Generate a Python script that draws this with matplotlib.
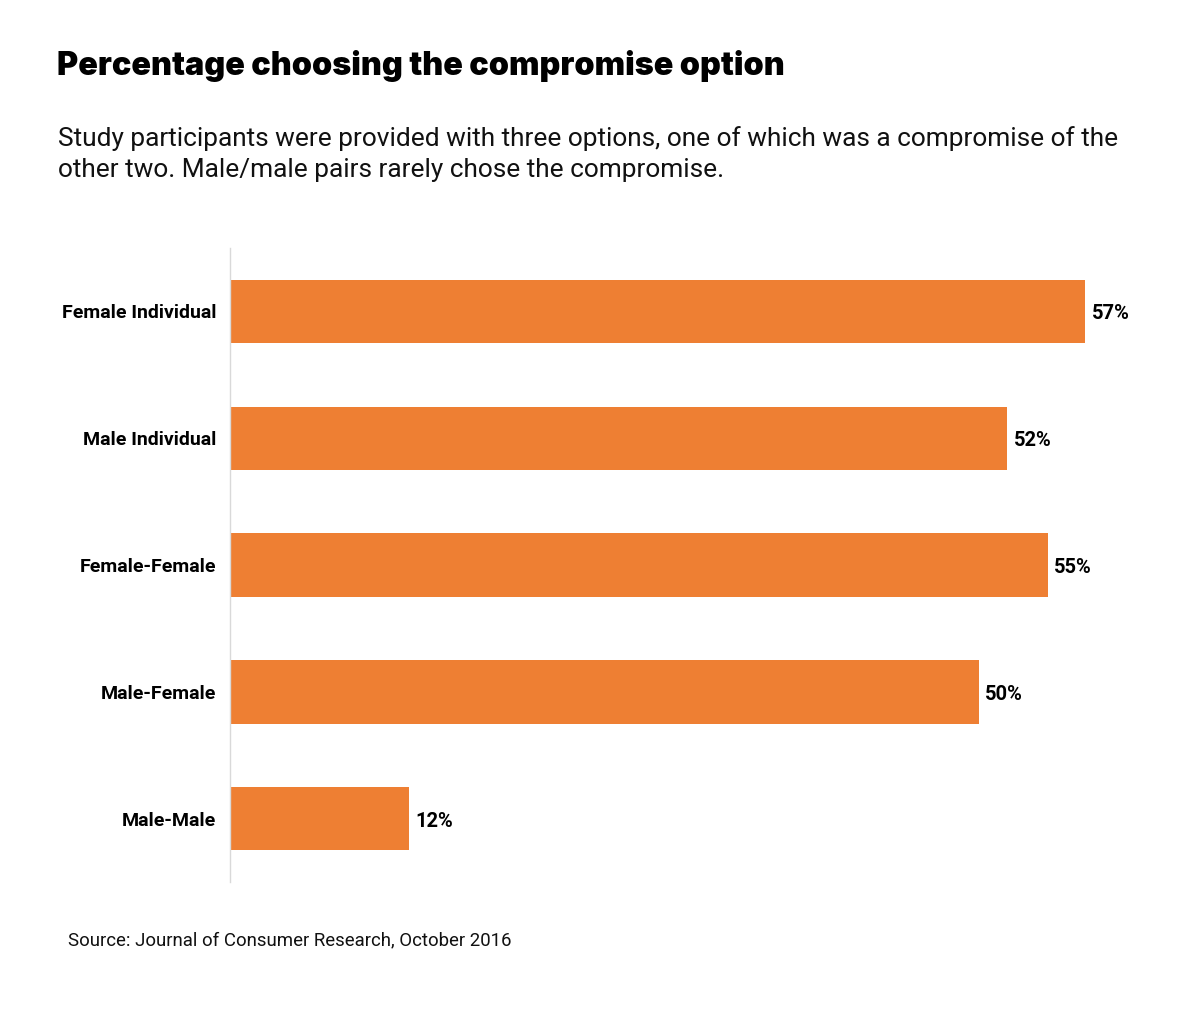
import matplotlib
matplotlib.use("Agg")
import matplotlib.pyplot as plt

CATEGORIES = ["Female Individual", "Male Individual", "Female-Female",
              "Male-Female", "Male-Male"]
# bar lengths as drawn (labels show the rounded figures)
VALUES = [57.0, 51.8, 54.5, 49.9, 11.9]
LABELS = ["57%", "52%", "55%", "50%", "12%"]
TITLE = "Percentage choosing the compromise option"
SUBTITLE = ("Study participants were provided with three options, one of which was a compromise of the\n"
            "other two. Male/male pairs rarely chose the compromise.")
SOURCE = "Source: Journal of Consumer Research, October 2016"

ORANGE = "#EE7F33"
plt.rcParams["font.family"] = ["Roboto", "DejaVu Sans"]

W, H = 1200, 1011
fig = plt.figure(figsize=(W / 100, H / 100), dpi=100)
ax = fig.add_axes([230 / W, 1 - 882 / H, 900 / W, (882 - 248) / H])

y = list(range(len(CATEGORIES)))
ax.barh(y, VALUES, height=0.5, color=ORANGE)
ax.set_xlim(0, 60)
ax.set_ylim(len(CATEGORIES) - 0.5, -0.5)
ax.set_yticks(y, CATEGORIES, fontsize=14, fontweight="bold")
ax.tick_params(axis="y", length=0, pad=10)
ax.set_xticks([])
for s in ["top", "right", "bottom"]:
    ax.spines[s].set_visible(False)
ax.spines["left"].set_color("#d9d9d9")
ax.spines["left"].set_linewidth(1)

for yi, v, lab in zip(y, VALUES, LABELS):
    ax.text(v + 0.45, yi + 0.02, lab, va="center", ha="left",
            fontsize=14.5, fontweight="bold")

renderer = fig.canvas.get_renderer()


def fit_width(t, target_px):
    # scale font so the text spans the same width as in the reference
    w = t.get_window_extent(renderer).width
    t.set_fontsize(t.get_fontsize() * target_px / w)


title = fig.text(57 / W, 1 - 66 / H, TITLE, fontsize=24, fontweight="black",
                 family=["Inter", "Roboto", "DejaVu Sans"],
                 va="center", ha="left")
fit_width(title, 725)

sub = fig.text(58 / W, 1 - 154 / H, SUBTITLE, fontsize=18.9, va="center",
               ha="left", linespacing=1.38, color="#111111")
fit_width(sub, 1062)

src = fig.text(68 / W, 1 - 940 / H, SOURCE, fontsize=13.4, va="center",
               ha="left", color="#111111")
fit_width(src, 443)

fig.savefig("out.png", dpi=100)
